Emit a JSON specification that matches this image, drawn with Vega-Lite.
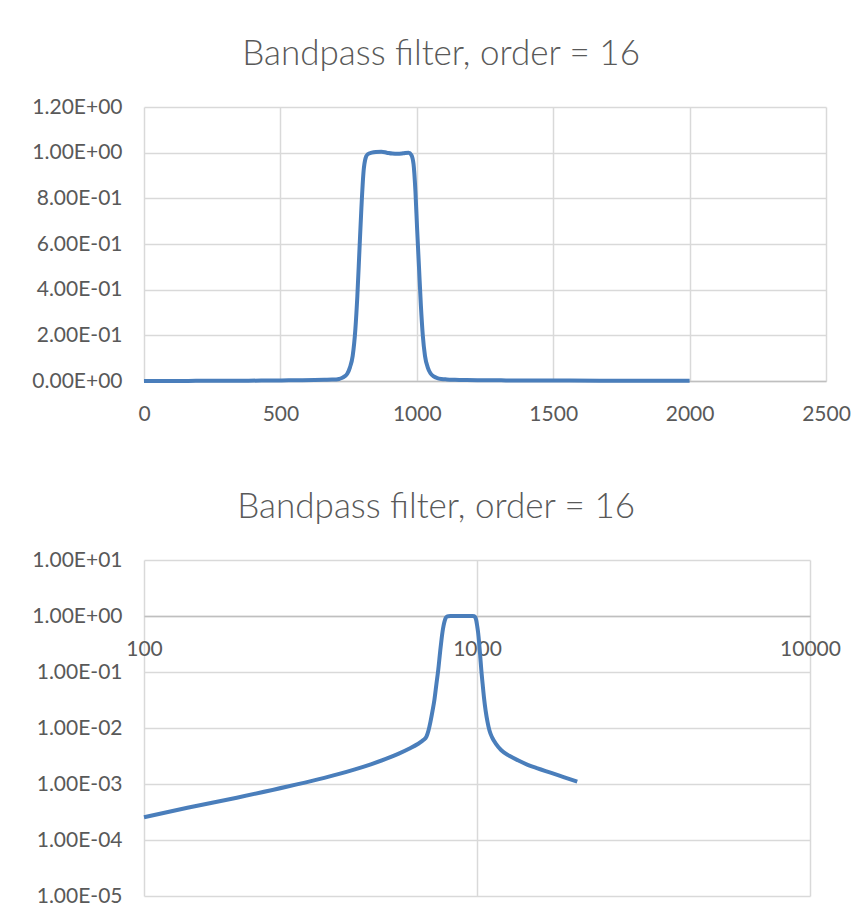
{
  "$schema": "https://vega.github.io/schema/vega-lite/v6.json",
  "background": "white",
  "padding": {"left": 31, "top": 37, "right": 0, "bottom": 0},
  "autosize": {"type": "pad"},
  "spacing": 66,
  "config": {
    "font": "Lato",
    "view": {"stroke": null},
    "title": {"fontSize": 35, "font": "Lato", "fontWeight": 300, "color": "#595959", "anchor": "middle", "frame": "bounds", "offset": 24},
    "axis": {"labelFont": "Lato", "labelFontSize": 21, "labelColor": "#595959", "ticks": false, "tickSize": 0, "gridColor": "#d9d9d9", "gridWidth": 1.5, "title": null, "domain": false, "labelFlush": false}
  },
  "datasets": {
    "filt": [
      {"freq": 0, "gain": 0.0},
      {"freq": 20, "gain": 0.00005},
      {"freq": 50, "gain": 0.00012},
      {"freq": 100, "gain": 0.000255},
      {"freq": 135, "gain": 0.000376},
      {"freq": 190, "gain": 0.00057},
      {"freq": 270, "gain": 0.0009},
      {"freq": 333, "gain": 0.00121},
      {"freq": 383, "gain": 0.0015},
      {"freq": 430, "gain": 0.00183},
      {"freq": 480, "gain": 0.00225},
      {"freq": 530, "gain": 0.00277},
      {"freq": 580, "gain": 0.00344},
      {"freq": 625, "gain": 0.00425},
      {"freq": 666, "gain": 0.00524},
      {"freq": 690, "gain": 0.0061},
      {"freq": 705, "gain": 0.007},
      {"freq": 715, "gain": 0.009},
      {"freq": 725, "gain": 0.013},
      {"freq": 735, "gain": 0.02},
      {"freq": 745, "gain": 0.032},
      {"freq": 755, "gain": 0.06},
      {"freq": 765, "gain": 0.11},
      {"freq": 775, "gain": 0.23},
      {"freq": 782, "gain": 0.37},
      {"freq": 790, "gain": 0.58},
      {"freq": 797, "gain": 0.76},
      {"freq": 805, "gain": 0.92},
      {"freq": 812, "gain": 0.975},
      {"freq": 820, "gain": 0.993},
      {"freq": 835, "gain": 1.0},
      {"freq": 850, "gain": 1.003},
      {"freq": 870, "gain": 1.004},
      {"freq": 890, "gain": 1.0},
      {"freq": 910, "gain": 0.996},
      {"freq": 930, "gain": 0.995},
      {"freq": 950, "gain": 0.997},
      {"freq": 970, "gain": 1.0},
      {"freq": 980, "gain": 0.99},
      {"freq": 988, "gain": 0.95},
      {"freq": 995, "gain": 0.83},
      {"freq": 1001, "gain": 0.67},
      {"freq": 1008, "gain": 0.5},
      {"freq": 1015, "gain": 0.33},
      {"freq": 1022, "gain": 0.2},
      {"freq": 1030, "gain": 0.11},
      {"freq": 1040, "gain": 0.06},
      {"freq": 1050, "gain": 0.034},
      {"freq": 1062, "gain": 0.02},
      {"freq": 1075, "gain": 0.013},
      {"freq": 1090, "gain": 0.009},
      {"freq": 1110, "gain": 0.0068},
      {"freq": 1140, "gain": 0.0052},
      {"freq": 1183, "gain": 0.004},
      {"freq": 1250, "gain": 0.0032},
      {"freq": 1327, "gain": 0.00265},
      {"freq": 1420, "gain": 0.0022},
      {"freq": 1520, "gain": 0.0019},
      {"freq": 1671, "gain": 0.00158},
      {"freq": 1820, "gain": 0.00133},
      {"freq": 2000, "gain": 0.0011}
    ]
  },
  "vconcat": [
    {
      "title": "Bandpass filter, order = 16",
      "width": 682,
      "height": 274,
      "data": {"name": "filt"},
      "mark": {"type": "line", "color": "#4a7ebb", "strokeWidth": 4, "interpolate": "monotone"},
      "encoding": {
        "x": {
          "field": "freq", "type": "quantitative",
          "scale": {"domain": [0, 2500], "nice": false, "zero": false},
          "axis": {"values": [0, 500, 1000, 1500, 2000, 2500], "format": "d", "domain": true, "domainColor": "#bfbfbf", "domainWidth": 1.5, "labelPadding": 22, "grid": true}
        },
        "y": {
          "field": "gain", "type": "quantitative",
          "scale": {"domain": [0, 1.2], "nice": false},
          "axis": {"values": [0, 0.2, 0.4, 0.6, 0.8, 1, 1.2], "labelPadding": 22, "labelExpr": "replace(replace(upper(format(datum.value, '.2e')), 'E+', 'E+0'), 'E-', 'E-0')"}
        }
      }
    },
    {
      "title": "Bandpass filter, order = 16",
      "width": 666,
      "height": 336,
      "data": {"name": "filt"},
      "transform": [{"filter": "datum.freq >= 100"}],
      "mark": {"type": "line", "color": "#4a7ebb", "strokeWidth": 4, "interpolate": "monotone"},
      "encoding": {
        "x": {
          "field": "freq", "type": "quantitative",
          "scale": {"type": "log", "domain": [100, 10000], "nice": false},
          "axis": {"values": [100, 1000, 10000], "format": "d", "offset": -280, "domain": true, "domainColor": "#bfbfbf", "domainWidth": 1.5, "labelPadding": 22, "grid": true}
        },
        "y": {
          "field": "gain", "type": "quantitative",
          "scale": {"type": "log", "domain": [0.00001, 10], "nice": false},
          "axis": {"values": [0.00001, 0.0001, 0.001, 0.01, 0.1, 1, 10], "labelPadding": 22, "labelExpr": "replace(replace(upper(format(datum.value, '.2e')), 'E+', 'E+0'), 'E-', 'E-0')"}
        }
      }
    }
  ]
}
